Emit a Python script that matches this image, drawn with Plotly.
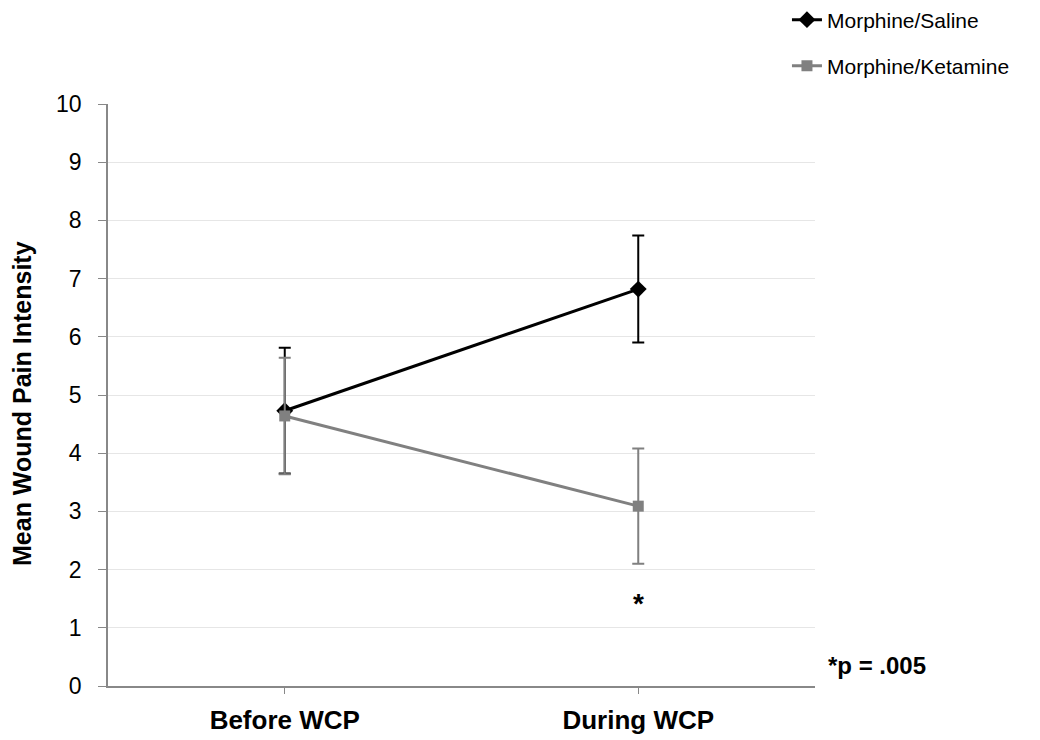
import plotly.graph_objects as go

categories = ["Before WCP", "During WCP"]
saline = [4.73, 6.82]
saline_err = [1.08, 0.92]
ketamine = [4.64, 3.09]
ketamine_err = [1.0, 0.99]
y_ticks = list(range(0, 11))

FONT = "Liberation Sans, Arial, sans-serif"

fig = go.Figure()
fig.add_trace(go.Scatter(
    x=categories, y=saline, name="Morphine/Saline", mode="lines+markers",
    line=dict(color="#000000", width=3),
    marker=dict(symbol="diamond", size=13, color="#000000"),
    error_y=dict(type="data", array=saline_err, visible=True, color="#000000", thickness=2, width=6),
    legend="legend",
))
fig.add_trace(go.Scatter(
    x=categories, y=ketamine, name="Morphine/Ketamine", mode="lines+markers",
    line=dict(color="#808080", width=3),
    marker=dict(symbol="square", size=11, color="#808080"),
    error_y=dict(type="data", array=ketamine_err, visible=True, color="#808080", thickness=2, width=6),
    legend="legend2",
))

fig.add_annotation(x="During WCP", y=1.42, text="<b>*</b>", showarrow=False,
                   font=dict(size=28, color="black", family=FONT))
fig.add_annotation(x=1.0, xref="paper", xanchor="left", xshift=11, y=0.36, text="<b>*p = .005</b>",
                   showarrow=False, font=dict(size=24, color="black", family=FONT))
# y-axis title
fig.add_annotation(x=0, xref="paper", xanchor="center", xshift=-86, y=0.5, yref="paper",
                   yshift=-9, text="<b>Mean Wound Pain Intensity</b>", textangle=-90,
                   showarrow=False, font=dict(size=25, color="black", family=FONT))

legend_common = dict(xref="container", yref="container", x=0.749, xanchor="left", yanchor="middle",
                     font=dict(size=21, color="black", family=FONT), bgcolor="rgba(0,0,0,0)",
                     itemwidth=30)

fig.update_layout(
    width=1040, height=740,
    margin=dict(l=100, r=233, t=96, b=62, autoexpand=False),
    plot_bgcolor="white", paper_bgcolor="white",
    font=dict(family=FONT, size=21, color="black"),
    showlegend=True,
    legend=dict(y=1 - 12 / 740, **legend_common),
    legend2=dict(y=1 - 58 / 740, **legend_common),
    xaxis=dict(range=[-0.5, 1.5], showgrid=False, showline=True, linecolor="#888888", linewidth=1.5,
               ticks="outside", ticklen=6, tickcolor="#888888", automargin=False,
               ticklabelstandoff=4,
               tickfont=dict(size=26, family=FONT), tickprefix="<b>", ticksuffix="</b>"),
    yaxis=dict(range=[0, 10], tickvals=y_ticks, showgrid=True, gridcolor="#e6e6e6", gridwidth=1,
               showline=True, linecolor="#888888", linewidth=1.5, ticks="outside", ticklen=8,
               tickcolor="#888888", tickfont=dict(size=23, family=FONT), zeroline=False,
               ticklabelstandoff=12, automargin=False),
)

fig.write_html("out.html")
